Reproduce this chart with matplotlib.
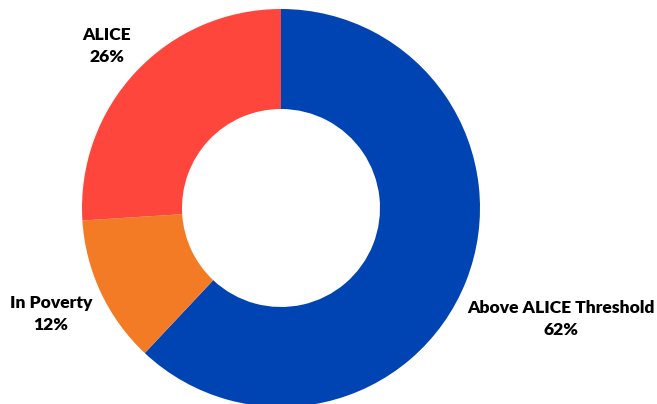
import matplotlib
matplotlib.use("Agg")
import matplotlib.pyplot as plt

categories = ["Above ALICE Threshold", "In Poverty", "ALICE"]
values = [62, 12, 26]
colors = ["#0044B3", "#F47B25", "#FF463D"]

W, H = 657, 404
fig = plt.figure(figsize=(W / 100, H / 100), dpi=100)
ax = fig.add_axes([0, 0, 1, 1])

cx, cy, R = 281, H - 208, 199
ax.pie(values, colors=colors, startangle=90, counterclock=False,
       center=(cx, cy), radius=R, frame=True,
       wedgeprops=dict(width=100, linewidth=0))
ax.set_xlim(0, W)
ax.set_ylim(0, H)
ax.set_aspect("equal")
ax.axis("off")

label_pos = {
    "ALICE": (107, 46),
    "In Poverty": (51, 314),
    "Above ALICE Threshold": (561, 319),
}
for cat, v in zip(categories, values):
    x, y = label_pos[cat]
    ax.text(x, H - y, f"{cat}\n{v}%", ha="center", va="center",
            fontsize=12.6, fontweight="heavy", family=["Lato", "DejaVu Sans"],
            linespacing=1.42, color="#000000")

fig.savefig("out.png", dpi=100)
